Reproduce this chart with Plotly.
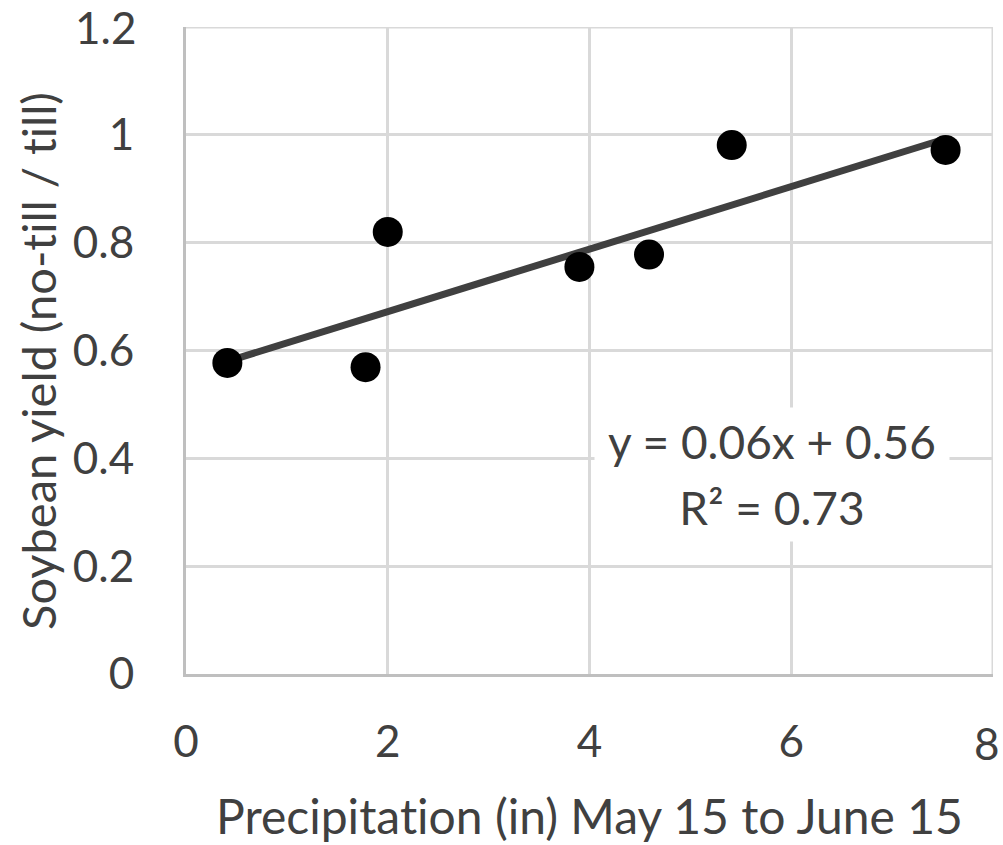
import plotly.graph_objects as go

# Precipitation May 15 - June 15 (in) and soybean yield ratio (no-till / till)
precip_in = [0.41, 1.78, 2.00, 3.90, 4.59, 5.41, 7.53]
yield_ratio = [0.577, 0.569, 0.820, 0.755, 0.778, 0.981, 0.972]

# Linear trendline coefficients and fit quality
trend_slope = 0.058
trend_intercept = 0.556
r_squared = 0.73

x_ticks = [0, 2, 4, 6, 8]
y_ticks = [0, 0.2, 0.4, 0.6, 0.8, 1.0, 1.2]
y_tick_labels = ["0", "0.2", "0.4", "0.6", "0.8", "1", "1.2"]
X_MAX = x_ticks[-1]
Y_MAX = y_ticks[-1]

FONT = "Lato"
TEXT = "#404040"
GRID = "#d9d9d9"
TICK_SIZE = 44
NO_LIGA = '<span style="font-variant-ligatures:none">{}</span>'

x_ends = [min(precip_in), max(precip_in)]
y_ends = [trend_slope * x + trend_intercept for x in x_ends]

fig = go.Figure()
fig.add_trace(go.Scatter(
    x=x_ends, y=y_ends, mode="lines",
    line=dict(color="#404040", width=7),
    hoverinfo="skip", showlegend=False,
))
fig.add_trace(go.Scatter(
    x=precip_in, y=yield_ratio, mode="markers",
    marker=dict(color="black", size=30, line=dict(width=0)),
    showlegend=False,
))

# Outer gridlines along the top and right edges of the plot area
fig.add_shape(type="line", xref="x", yref="y", x0=0, x1=X_MAX, y0=Y_MAX, y1=Y_MAX,
              line=dict(color=GRID, width=3), layer="below")
fig.add_shape(type="line", xref="x", yref="y", x0=X_MAX, x1=X_MAX, y0=0, y1=Y_MAX,
              line=dict(color=GRID, width=3), layer="below")

# Labels for the last tick on each axis
fig.add_annotation(
    x=0, y=Y_MAX, xref="paper", yref="y", text=y_tick_labels[-1],
    showarrow=False, xanchor="right", yanchor="middle", xshift=-48,
    font=dict(family=FONT, size=TICK_SIZE, color=TEXT),
)
fig.add_annotation(
    x=X_MAX, y=0, xref="x", yref="paper", text=str(X_MAX),
    showarrow=False, xanchor="center", yanchor="middle", xshift=-6, yshift=-69,
    font=dict(family=FONT, size=TICK_SIZE, color=TEXT),
)

# Trendline equation box (two stacked lines on a white background)
eq_lines = [
    f"y = {trend_slope:.2f}x + {trend_intercept:.2f}",
    f"R² = {r_squared:.2f}",
]
for i, line_text in enumerate(eq_lines):
    fig.add_annotation(
        x=5.81, y=0.432 - i * 0.124, xref="x", yref="y",
        text=line_text, showarrow=False,
        bgcolor="white", borderpad=0, width=354, height=67,
        font=dict(family=FONT, size=46, color=TEXT),
        align="center", valign="middle",
    )

# Vertical axis title placed as rotated text left of the tick labels
fig.add_annotation(
    x=-0.1834, y=0.4838, xref="paper", yref="paper",
    text=NO_LIGA.format("Soybean yield (no-till / till)"), textangle=-90,
    showarrow=False, xanchor="center", yanchor="middle",
    font=dict(family=FONT, size=47, color=TEXT),
)

fig.update_layout(
    width=1003, height=845,
    margin=dict(l=186, r=10, t=27, b=169),
    paper_bgcolor="white", plot_bgcolor="white",
    font=dict(family=FONT, size=TICK_SIZE, color=TEXT),
    xaxis=dict(
        range=[0, X_MAX], tickvals=x_ticks, ticktext=[str(v) for v in x_ticks],
        showgrid=True, gridcolor=GRID, gridwidth=3,
        showline=True, linecolor="#bfbfbf", linewidth=3,
        zeroline=False, ticks="", ticklabelstandoff=27,
        title=dict(text=NO_LIGA.format("Precipitation (in) May 15 to June 15"), standoff=36,
                   font=dict(family=FONT, size=48, color=TEXT)),
    ),
    yaxis=dict(
        range=[0, Y_MAX], tickvals=y_ticks, ticktext=y_tick_labels,
        showgrid=True, gridcolor=GRID, gridwidth=3,
        showline=True, linecolor="#bfbfbf", linewidth=3,
        zeroline=False, ticks="", ticklabelstandoff=40,
    ),
)

fig.write_html("out.html")
